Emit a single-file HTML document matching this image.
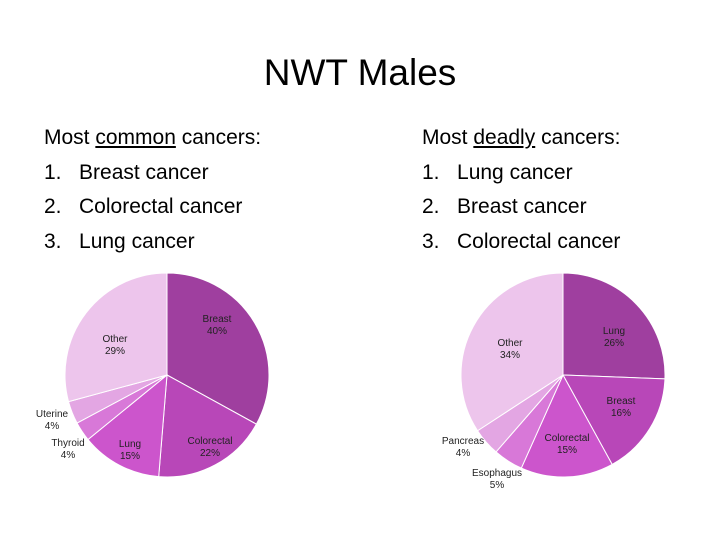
<!DOCTYPE html>
<html><head><meta charset="utf-8"><style>
body{margin:0;background:#fff;}
#c{position:relative;width:720px;height:540px;overflow:hidden;font-family:"Liberation Sans",sans-serif;}
.t{position:absolute;white-space:nowrap;color:#000;}
.b{font-size:21px;}
</style></head><body>
<div id="c">
<div class="t" style="left:0;width:720px;text-align:center;top:52px;font-size:37px;">NWT Males</div>
<div>
<div class="t b" style="left:44px;top:126px">Most <u>common</u> cancers:</div>
<div class="t b" style="left:44px;top:161px">1.&nbsp;&nbsp;&nbsp;Breast cancer</div>
<div class="t b" style="left:44px;top:195px">2.&nbsp;&nbsp;&nbsp;Colorectal cancer</div>
<div class="t b" style="left:44px;top:230px">3.&nbsp;&nbsp;&nbsp;Lung cancer</div>
</div>
<div>
<div class="t b" style="left:422px;top:126px">Most <u>deadly</u> cancers:</div>
<div class="t b" style="left:422px;top:161px">1.&nbsp;&nbsp;&nbsp;Lung cancer</div>
<div class="t b" style="left:422px;top:195px">2.&nbsp;&nbsp;&nbsp;Breast cancer</div>
<div class="t b" style="left:422px;top:230px">3.&nbsp;&nbsp;&nbsp;Colorectal cancer</div>
</div>
<svg id="svg" width="720" height="540" style="position:absolute;left:0;top:0"></svg>
</div>
<script>
const leftCats=["Breast","Colorectal","Lung","Thyroid","Uterine","Other"];
const leftValues=[33,18.3,12.8,3.1,3.6,29.2];
const leftLabels=["40%","22%","15%","4%","4%","29%"];
const rightCats=["Lung","Breast","Colorectal","Esophagus","Pancreas","Other"];
const rightValues=[25.6,16.4,14.7,4.7,4.4,34.2];
const rightLabels=["26%","16%","15%","5%","4%","34%"];
const colors=["#9f3f9f","#b847b8","#cc55cc","#d878d8","#e3a6e3","#edc5ec"];
const NS="http://www.w3.org/2000/svg";
const svg=document.getElementById('svg');
function pie(cats,vals,labels,cx,cy,r,labelPos,name){
  const g=document.createElementNS(NS,'g');
  
  
  svg.appendChild(g);
  const tot=vals.reduce((a,b)=>a+b,0);
  let a0=0;
  vals.forEach((v,i)=>{
    const a1=a0+v/tot*2*Math.PI;
    const x0=cx+r*Math.sin(a0),y0=cy-r*Math.cos(a0);
    const x1=cx+r*Math.sin(a1),y1=cy-r*Math.cos(a1);
    const p=document.createElementNS(NS,'path');
    p.setAttribute('d',`M${cx},${cy}L${x0},${y0}A${r},${r} 0 ${a1-a0>Math.PI?1:0} 1 ${x1},${y1}Z`);
    p.setAttribute('fill',colors[i]);
    p.setAttribute('stroke','#fff');
    p.setAttribute('stroke-width','1');
    
    
    g.appendChild(p);
    a0=a1;
  });
  cats.forEach((c,i)=>{
    const t=document.createElementNS(NS,'text');
    t.setAttribute('x',labelPos[i][0]);
    t.setAttribute('y',labelPos[i][1]);
    t.setAttribute('text-anchor','middle');
    t.setAttribute('font-size','10');
    t.setAttribute('fill','#222');
    t.setAttribute('font-family','Liberation Sans, sans-serif');
    
    
    const s1=document.createElementNS(NS,'tspan');s1.setAttribute('x',labelPos[i][0]);s1.textContent=c;
    const s2=document.createElementNS(NS,'tspan');s2.setAttribute('x',labelPos[i][0]);s2.setAttribute('dy','12');s2.textContent=labels[i];
    t.appendChild(s1);t.appendChild(s2);
    g.appendChild(t);
  });
}
pie(leftCats,leftValues,leftLabels,167,375,102,[[217,322],[210,444],[130,447],[68,446],[52,417],[115,342]],'common-pie');
pie(rightCats,rightValues,rightLabels,563,375,102,[[614,334],[621,404],[567,441],[497,476],[463,444],[510,346]],'deadly-pie');
</script>
</body></html>
